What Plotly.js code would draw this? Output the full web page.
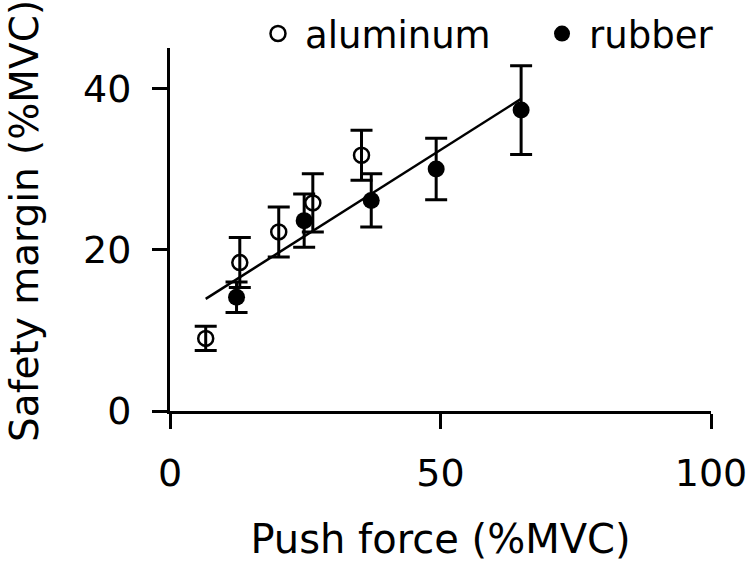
<!DOCTYPE html>
<html>
<head>
<meta charset="utf-8">
<script src="https://cdn.plot.ly/plotly-3.0.1.min.js"></script>
<style>html,body{margin:0;padding:0;background:#fff;}#chart{width:750px;height:573px;}</style>
</head>
<body>
<div id="chart"></div>
<script>
// Aluminum (open circles)
const aluX = [6.6, 12.9, 20.1, 26.4, 35.4];
const aluY = [9.0, 18.4, 22.2, 25.8, 31.7];
const aluErr = [1.5, 3.1, 3.1, 3.6, 3.1];
// Rubber (filled circles)
const rubX = [12.3, 24.8, 37.2, 49.2, 64.9];
const rubY = [14.1, 23.6, 26.1, 30.0, 37.3];
const rubErr = [1.9, 3.3, 3.3, 3.8, 5.5];
// Regression line endpoints
const fitX = [6.6, 64.9];
const fitY = [13.9, 38.7];

const xTicks = [0, 50, 100];
const yTicks = [0, 20, 40];

const xTitle = 'Push force (%MVC)';
const yTitle = 'Safety margin (%MVC)';

const FONT = 'DejaVu Sans, Liberation Sans, Arial, sans-serif';

const traces = [
  {
    x: fitX, y: fitY, mode: 'lines', type: 'scatter',
    line: {color: '#000', width: 2.5}, showlegend: false, hoverinfo: 'skip'
  },
  {
    x: aluX, y: aluY, mode: 'markers', type: 'scatter', name: 'aluminum', legend: 'legend',
    marker: {symbol: 'circle-open', size: 15, color: '#000', line: {width: 2.5, color: '#000'}},
    error_y: {type: 'data', array: aluErr, visible: true, color: '#000', thickness: 3, width: 11}
  },
  {
    x: rubX, y: rubY, mode: 'markers', type: 'scatter', name: 'rubber', legend: 'legend2',
    marker: {symbol: 'circle', size: 17, color: '#000'},
    error_y: {type: 'data', array: rubErr, visible: true, color: '#000', thickness: 3, width: 11}
  }
];

const legendBase = {
  orientation: 'h', xanchor: 'left', yanchor: 'middle', y: 1.0386,
  font: {family: FONT, size: 37, color: '#000'},
  itemwidth: 44, bgcolor: 'rgba(0,0,0,0)', borderwidth: 0
};

const layout = {
  width: 750, height: 573,
  margin: {l: 170, r: 39, t: 48, b: 162, pad: 0, autoexpand: false},
  paper_bgcolor: '#fff', plot_bgcolor: '#fff',
  font: {family: FONT, color: '#000', size: 38},
  showlegend: true,
  legend: Object.assign({}, legendBase, {x: 0.1497}),
  legend2: Object.assign({}, legendBase, {x: 0.6747}),
  xaxis: {
    range: [0, 100], tickvals: xTicks, ticktext: xTicks.map(String),
    showline: true, linecolor: '#000', linewidth: 3,
    ticks: 'outside', ticklen: 15, tickwidth: 3, tickcolor: '#000',
    ticklabelstandoff: 11,
    showgrid: false, zeroline: false,
    tickfont: {family: FONT, size: 38, color: '#000'},
    title: {text: xTitle, font: {family: FONT, size: 40, color: '#000'}, standoff: 32},
    automargin: false, fixedrange: true
  },
  yaxis: {
    range: [0, 45], tickvals: yTicks, ticktext: yTicks.map(String),
    showline: true, linecolor: '#000', linewidth: 3,
    ticks: 'outside', ticklen: 15, tickwidth: 3, tickcolor: '#000',
    ticklabelstandoff: 13,
    showgrid: false, zeroline: false,
    tickfont: {family: FONT, size: 38, color: '#000'},
    automargin: false, fixedrange: true
  },
  annotations: [{
    text: yTitle, xref: 'paper', yref: 'paper',
    x: (24 - 170) / 541, y: (411 - 221) / 363,
    xanchor: 'center', yanchor: 'middle', textangle: -90, showarrow: false,
    font: {family: FONT, size: 39, color: '#000'}
  }]
};

Plotly.newPlot('chart', traces, layout, {displayModeBar: false, staticPlot: true});
</script>
</body>
</html>
